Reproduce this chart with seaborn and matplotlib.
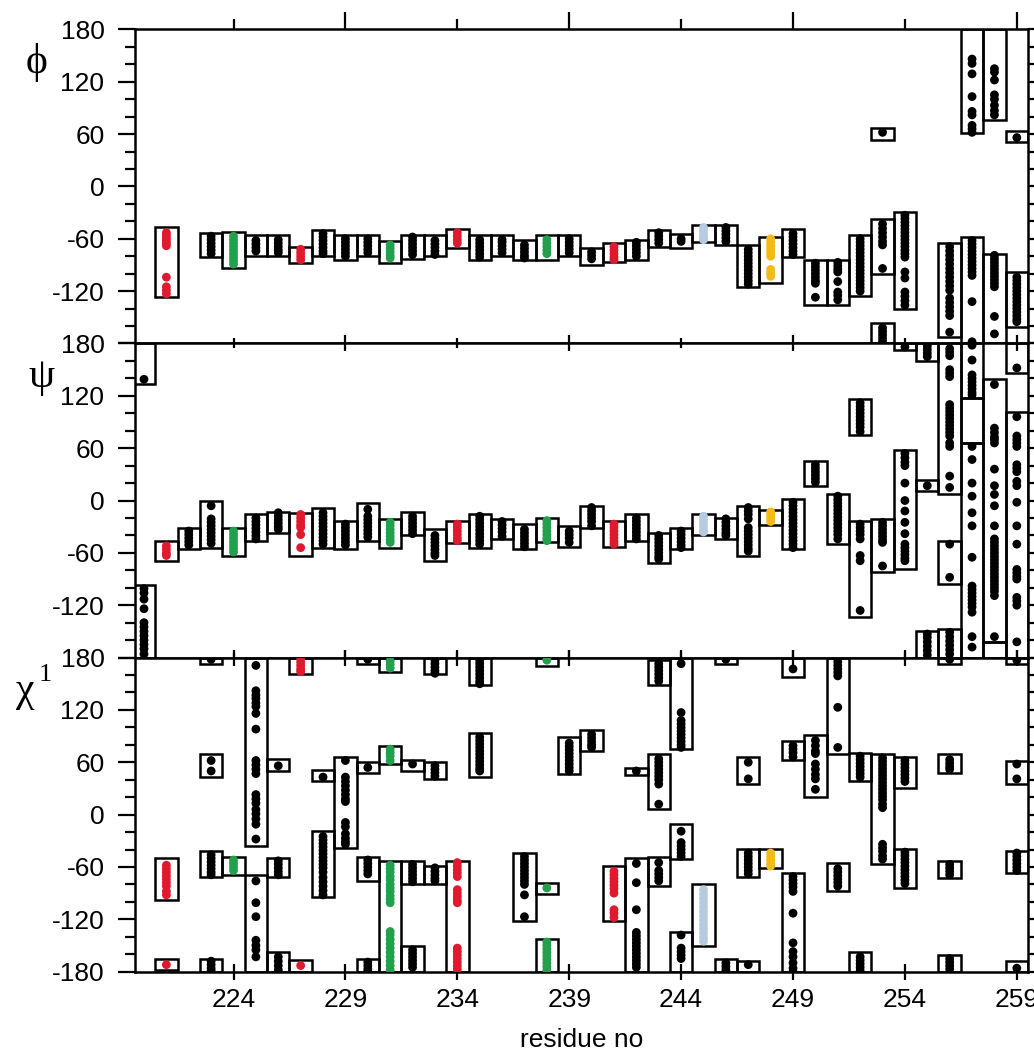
import matplotlib
matplotlib.use("Agg")
import matplotlib.pyplot as plt
from matplotlib.patches import Rectangle
from matplotlib.ticker import MultipleLocator
import pandas as pd
import seaborn as sns

# residue colour groups (all other residues are black)
colored_res = {221: "red", 224: "green", 227: "red", 231: "green", 234: "red",
               238: "green", 241: "red", 245: "lightblue", 248: "yellow"}
palette = {"black": "#000000", "red": "#e01a2e", "green": "#22a04c",
           "yellow": "#f4bb17", "lightblue": "#b6cbe0"}

# boxes: (residue, low, high) in degrees
phi_boxes = [
    (221, -127, -46), (223, -81, -53), (224, -93, -52), (225, -80, -56), (226, -80, -56),
    (227, -88, -69), (228, -80, -50), (229, -84, -56), (230, -80, -56), (231, -88, -63),
    (232, -83, -56), (233, -80, -56), (234, -71, -49), (235, -84, -56), (236, -80, -56),
    (237, -84, -61), (238, -84, -56), (239, -80, -56), (240, -90, -71), (241, -87, -65),
    (242, -84, -61), (243, -69, -50), (244, -71, -54), (245, -64, -44), (246, -67, -44),
    (247, -115, -67), (248, -111, -58), (249, -81, -49), (250, -136, -84), (251, -136, -84),
    (252, -126, -56), (253, -100, -37), (253, 53, 67), (253, -180, -157), (254, -140, -29),
    (256, -172, -65), (257, 61, 180), (257, -180, -58), (258, 76, 180), (258, -180, -77),
    (259, 51, 63), (259, -161, -98),
]
psi_boxes = [
    (220, 133, 180), (220, -180, -97), (221, -69, -46), (222, -56, -31), (223, -54, 0),
    (224, -63, -31), (225, -46, -16), (226, -37, -13), (227, -63, -14), (228, -54, -9),
    (229, -56, -23), (230, -46, -3), (231, -54, -21), (232, -40, -13), (233, -69, -33),
    (234, -49, -24), (235, -54, -15), (236, -44, -21), (237, -56, -27), (238, -48, -20),
    (239, -53, -29), (240, -32, -6), (241, -53, -23), (242, -46, -15), (243, -72, -37),
    (244, -56, -31), (245, -40, -15), (246, -44, -20), (247, -63, -6), (248, -28, -11),
    (249, -56, 2), (250, 17, 45), (251, -50, 8), (252, 75, 116), (252, -133, -23),
    (253, -82, -21), (254, -79, 58), (254, 172, 180), (255, 11, 24), (255, 160, 180),
    (255, -180, -150), (256, 8, 180), (256, -96, -46), (256, -180, -147), (257, 117, 180),
    (257, 66, 117), (257, -180, 66), (258, -162, 139), (258, -180, -162), (259, 146, 180),
    (259, -180, 102),
]
chi_boxes = [
    (221, -98, -50), (221, -178, -165), (223, 173, 180), (223, 43, 70), (223, -72, -42),
    (223, -180, -165), (224, -69, -48), (225, -36, 180), (225, -180, -69), (226, 50, 64),
    (226, -72, -50), (226, -180, -157), (227, 161, 180), (227, -180, -167), (228, 38, 51),
    (228, -94, -19), (229, -38, 66), (230, 173, 180), (230, 48, 60), (230, -76, -48),
    (230, -180, -165), (231, 164, 180), (231, 58, 79), (231, -180, -53), (232, 50, 63),
    (232, -79, -53), (232, -180, -151), (233, 161, 180), (233, 41, 60), (233, -79, -59),
    (234, -180, -53), (235, 148, 180), (235, 43, 93), (237, -122, -44), (238, 170, 180),
    (238, -91, -78), (238, -180, -142), (239, 46, 89), (240, 73, 97), (241, -122, -59),
    (242, 45, 54), (242, -180, -50), (243, 148, 177), (243, 6, 70), (243, -82, -48),
    (244, 75, 180), (244, -51, -11), (244, -180, -134), (245, -151, -80), (246, 173, 180),
    (246, -180, -165), (247, 35, 66), (247, -72, -39), (247, -180, -168), (248, -61, -39),
    (249, 158, 180), (249, 63, 84), (249, -180, -67), (250, 20, 91), (251, 70, 180),
    (251, -88, -56), (252, 39, 71), (252, -180, -158), (253, -57, 70), (254, 31, 66),
    (254, -84, -39), (256, 173, 180), (256, 48, 70), (256, -73, -53), (256, -180, -161),
    (259, 173, 180), (259, 35, 62), (259, -67, -42), (259, -180, -168),
]

# individual conformers: residue -> angle values
phi_dots = {
    221: [-53, -56, -59, -62, -65, -68, -104, -115, -119, -123],
    223: [-57, -61, -65, -69, -73, -77],
    224: [-57, -61, -65, -69, -73, -77, -81, -85, -89],
    225: [-62, -66, -70, -74],
    226: [-61, -65, -69, -73, -76],
    227: [-72, -76, -80, -84],
    228: [-54, -58, -62, -66, -70, -74, -77],
    229: [-60, -64, -68, -72, -76, -80],
    230: [-60, -64, -68, -72, -76],
    231: [-67, -71, -75, -79, -82],
    232: [-58, -62, -66, -70, -74, -78],
    233: [-62, -66, -70, -74, -78],
    234: [-53, -57, -61, -65],
    235: [-61, -65, -69, -73, -77, -81],
    236: [-61, -64, -68, -72, -76],
    237: [-67, -71, -75, -79, -82],
    238: [-61, -65, -69, -73, -77],
    239: [-60, -64, -68, -72, -76],
    240: [-75, -79, -83],
    241: [-69, -73, -77, -81, -84],
    242: [-64, -68, -72, -76, -80],
    243: [-53, -57, -61, -65],
    244: [-60, -63],
    245: [-47, -51, -55, -59, -61],
    246: [-47, -51, -55, -59, -63],
    247: [-72, -76, -80, -84, -88, -92, -96, -100, -104, -108, -112],
    248: [-60, -64, -68, -72, -76, -80, -95, -99, -103],
    249: [-54, -58, -62, -66, -70, -74, -78],
    250: [-88, -92, -96, -100, -104, -108, -111, -127],
    251: [-87, -91, -95, -98, -109, -121, -125, -130],
    252: [-60, -64, -68, -72, -76, -80, -84, -88, -92, -96, -100, -104, -108, -112, -116, -120],
    253: [62, -43, -48, -53, -58, -63, -67, -94, -162, -166, -170, -174, -178],
    254: [-33, -37, -41, -45, -49, -53, -57, -61, -65, -69, -73, -77, -81, -98, -105, -121,
          -126, -131, -136],
    256: [-69, -74, -79, -84, -89, -94, -99, -104, -109, -114, -119, -128, -133, -138, -143,
          -148, -167],
    257: [146, 141, 129, 103, 86, 82, 70, 66, 62, -62, -66, -70, -74, -78, -82, -86, -90,
          -94, -98, -102, -132, -178],
    258: [135, 131, 122, 105, 100, 93, 87, 82, -79, -83, -87, -91, -95, -99, -103, -107,
          -111, -115, -149, -169],
    259: [56, -104, -108, -112, -116, -120, -124, -128, -132, -136, -140, -144, -148, -152,
          -155],
}
psi_dots = {
    220: [139, -101, -106, -113, -124, -140, -145, -150, -155, -160, -165, -170, -176],
    221: [-52, -56, -60, -63],
    222: [-35, -39, -43, -47, -51],
    223: [-6, -21, -25, -29, -33, -37, -41, -45, -49],
    224: [-35, -39, -43, -47, -51, -55, -59],
    225: [-20, -24, -28, -32, -36, -40, -44],
    226: [-14, -18, -22, -26, -30, -33],
    227: [-16, -20, -24, -28, -31, -39, -54],
    228: [-14, -18, -22, -26, -30, -34, -38, -42, -46, -50],
    229: [-27, -31, -35, -39, -43, -47, -51],
    230: [-10, -18, -22, -26, -30, -34, -38, -42],
    231: [-25, -29, -33, -37, -41, -45, -48],
    232: [-18, -22, -26, -30, -34, -38],
    233: [-40, -44, -48, -52, -56, -60, -63],
    234: [-27, -31, -35, -39, -43, -46],
    235: [-18, -22, -26, -30, -34, -38, -42, -46, -50],
    236: [-24, -28, -32, -36, -41],
    237: [-33, -37, -41, -45, -49, -53],
    238: [-23, -27, -31, -35, -39, -43, -46],
    239: [-35, -39, -43, -48],
    240: [-8, -12, -16, -20, -24, -29],
    241: [-27, -31, -35, -39, -43, -47, -50],
    242: [-20, -24, -28, -32, -36, -40, -44],
    243: [-40, -44, -48, -52, -56, -60, -64, -67],
    244: [-35, -39, -43, -47, -51, -54],
    245: [-18, -22, -26, -30, -34, -36],
    246: [-21, -25, -29, -33, -37, -40],
    247: [-8, -12, -16, -21, -31, -35, -39, -43, -47, -51, -55, -58],
    248: [-13, -17, -21, -24],
    249: [-2, -6, -10, -14, -18, -22, -26, -30, -34, -38, -42, -46, -50, -54],
    250: [41, 37, 33, 29, 25, 21],
    251: [5, 1, -3, -7, -11, -15, -19, -23, -27, -31, -35, -39, -44],
    252: [112, 108, 104, 100, 96, 92, 88, 84, 79, -27, -31, -35, -39, -44, -63, -69, -126],
    253: [-25, -29, -33, -37, -41, -45, -48, -75],
    254: [176, 54, 49, 44, 40, 20, 0, -12, -25, -38, -50, -54, -58, -62, -66, -69],
    255: [177, 173, 169, 165, 17, -153, -157, -162, -167, -172, -177],
    256: [174, 170, 166, 150, 146, 142, 110, 106, 102, 98, 94, 90, 86, 82, 78, 74, 66, 62,
          28, 15, -50, -88, -151, -156, -161, -166, -171, -176],
    257: [178, 161, 144, 140, 136, 132, 128, 124, 121, 62, 47, 20, 5, -14, -29, -65, -98,
          -102, -106, -110, -114, -118, -122, -128, -156, -168],
    258: [133, 83, 78, 73, 70, 66, 36, 17, 7, -6, -29, -44, -48, -52, -56, -60, -64, -68,
          -72, -76, -80, -84, -88, -92, -96, -100, -104, -109, -156],
    259: [152, 96, 74, 70, 66, 62, 41, 37, 33, 22, 17, -2, -29, -50, -79, -83, -87, -90,
          -111, -115, -120, -162],
}
chi_dots = {
    221: [-58, -62, -66, -70, -74, -78, -82, -88, -92, -172],
    223: [178, 62, 50, -46, -50, -54, -58, -62, -66, -69, -168, -172, -176, -179],
    224: [-52, -56, -60, -64],
    225: [171, 142, 137, 133, 128, 124, 116, 98, 62, 57, 52, 47, 23, 18, 13, 6, 1, -5, -11,
          -28, -76, -101, -117, -144, -150, -155, -163],
    226: [56, -53, -57, -61, -65, -69, -163, -168, -173, -178],
    227: [179, 175, 171, 167, 164, -173],
    228: [43, -25, -29, -33, -37, -41, -45, -49, -53, -57, -61, -66, -72, -77, -82, -87, -92],
    229: [62, 43, 38, 33, 28, 23, 18, 15, -9, -14, -22, -27, -31, -34],
    230: [178, 54, -52, -56, -60, -64, -68, -169, -173, -177, -180],
    231: [176, 172, 168, 75, 71, 67, 62, -58, -62, -66, -71, -75, -80, -84, -88, -93, -97,
          -101, -134, -138, -143, -148, -153, -158, -163, -168, -173, -178],
    232: [58, -57, -61, -65, -69, -73, -77, -155, -159, -163, -167, -171, -175],
    233: [177, 173, 169, 165, 162, 56, 52, 48, 44, -61, -65, -69, -73, -76],
    234: [-55, -59, -63, -67, -71, -86, -90, -94, -98, -101, -153, -157, -161, -165, -169,
          -173, -177],
    235: [177, 173, 169, 165, 161, 157, 153, 150, 89, 85, 81, 77, 73, 69, 65, 61, 57, 53, 50],
    237: [-48, -52, -56, -60, -64, -68, -72, -76, -80, -92, -117],
    238: [177, -84, -146, -150, -154, -158, -162, -166, -170, -174, -178],
    239: [82, 78, 74, 70, 66, 62, 58, 54, 50],
    240: [92, 88, 84, 80, 77],
    241: [-65, -69, -73, -77, -81, -85, -90, -109, -113, -118],
    242: [50, -56, -78, -109, -135, -139, -143, -147, -151, -155, -159, -163, -167, -171, -175],
    243: [173, 169, 165, 161, 157, 153, 64, 60, 56, 52, 48, 44, 40, 35, 12, -55, -64, -68,
          -72, -76],
    244: [173, 117, 108, 104, 100, 96, 92, 88, 84, 80, 77, -19, -32, -36, -40, -44, -48,
          -138, -153, -157, -161, -165],
    245: [-86, -91, -96, -101, -106, -111, -116, -121, -126, -131, -136, -141, -145],
    246: [178, -170, -174, -178],
    247: [60, 41, -44, -48, -52, -56, -60, -64, -68, -172],
    248: [-44, -48, -52, -56, -59],
    249: [167, 79, 75, 71, 66, -71, -75, -79, -83, -88, -113, -147, -157, -163, -170, -176,
          -180],
    250: [85, 79, 73, 70, 58, 52, 46, 41, 29],
    251: [179, 175, 171, 167, 163, 159, 123, 77, -62, -66, -70, -74, -78, -82],
    252: [67, 63, 59, 55, 51, 47, 43, -163, -167, -171, -175, -179],
    253: [65, 61, 57, 53, 49, 45, 41, 37, 33, 29, 25, 21, 17, 12, 8, -34, -38, -42, -47, -51],
    254: [62, 58, 54, 50, 46, 42, 38, -43, -47, -51, -55, -59, -63, -67, -71, -75, -79],
    256: [178, 63, 59, 55, 52, -57, -61, -65, -69, -165, -169, -173, -177],
    259: [177, 58, 41, -44, -48, -52, -56, -60, -64, -176],
}

panel_names = ["phi", "psi", "chi1"]
panel_symbols = ["\u03d5", "\u03c8", "\u03c7"]
label_pos = [(-0.110, 0.896), (-0.105, 0.894), (-0.124, 0.893)]
xticks_long = [229, 239, 249, 259]
xticks_short = [224, 234, 244, 254]
yticks = [-180, -120, -60, 0, 60, 120, 180]

rows = []
for name, dots in zip(panel_names, [phi_dots, psi_dots, chi_dots]):
    for res, vals in dots.items():
        for v in vals:
            rows.append({"panel": name, "residue": res, "angle": v,
                         "group": colored_res.get(res, "black")})
df = pd.DataFrame(rows)

sns.set_style("ticks")
plt.rcParams["font.family"] = ["Liberation Sans", "DejaVu Sans"]
plt.rcParams["axes.unicode_minus"] = False
plt.rcParams["axes.linewidth"] = 1.8
for key in ["text.color", "axes.labelcolor", "xtick.color", "ytick.color", "axes.edgecolor"]:
    plt.rcParams[key] = "black"

fig, axes = plt.subplots(3, 1, figsize=(10.34, 10.5), dpi=100)
fig.subplots_adjust(left=0.1306, right=0.9942, top=0.972, bottom=0.0746, hspace=0)

greek_font = ["Liberation Serif", "DejaVu Serif"]

for i, (ax, name, boxes) in enumerate(zip(axes, panel_names, [phi_boxes, psi_boxes, chi_boxes])):
    for res, lo, hi in boxes:
        ax.add_patch(Rectangle((res - 0.5, lo), 1.0, hi - lo, fill=False,
                               edgecolor="black", linewidth=1.8, zorder=2))
    sns.scatterplot(data=df[df["panel"] == name], x="residue", y="angle", hue="group",
                    palette=palette, s=40, linewidth=0, legend=False, ax=ax, zorder=3)
    ax.set_xlim(219.6, 259.5)
    ax.set_ylim(-180, 180)
    ax.set_xlabel("")
    ax.set_ylabel("")

    labels = [str(t) for t in yticks]
    if i < 2:
        labels[0] = ""
    ax.set_yticks(yticks, labels=labels)
    ax.yaxis.set_minor_locator(MultipleLocator(20))
    ax.tick_params(axis="y", which="both", left=True, right=True, direction="out",
                   width=1.6, labelsize=19, pad=10)
    ax.tick_params(axis="y", which="major", length=12)
    ax.tick_params(axis="y", which="minor", length=7)

    ax.set_xticks(xticks_long)
    ax.set_xticks(xticks_short, minor=True)
    ax.tick_params(axis="x", which="both", top=True, bottom=True, width=1.6,
                   direction="out" if i == 0 else "inout")
    ax.tick_params(axis="x", which="major", length=12)
    ax.tick_params(axis="x", which="minor", length=7 if i < 2 else 11)
    if i < 2:
        ax.tick_params(axis="x", which="both", labelbottom=False)
    else:
        ax.set_xticks(xticks_long, labels=[str(t) for t in xticks_long])
        ax.set_xticks(xticks_short, labels=[str(t) for t in xticks_short], minor=True)
        ax.tick_params(axis="x", which="both", labelsize=19, pad=6)
        ax.set_xlabel("residue no", fontsize=19, labelpad=11)

    for sp in ax.spines.values():
        sp.set_visible(True)
        sp.set_linewidth(1.8)

    lx, ly = label_pos[i]
    ax.text(lx, ly, panel_symbols[i], transform=ax.transAxes, fontsize=30,
            family=greek_font, ha="center", va="center")
    if name == "chi1":
        ax.text(-0.101, 0.945, "1", transform=ax.transAxes, fontsize=19,
                family=greek_font, ha="center", va="center")

fig.savefig("out.png", dpi=100)
